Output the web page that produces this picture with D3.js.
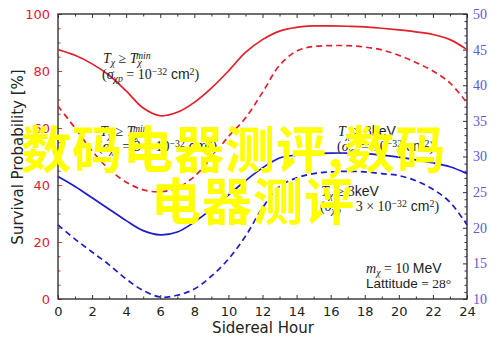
<!DOCTYPE html>
<html><head><meta charset="utf-8">
<script src="https://cdn.jsdelivr.net/npm/d3@7"></script>
<style>body{margin:0;background:#fff}svg{display:block}</style>
</head><body><svg id="c" width="500" height="341"></svg>
<script>
const hours = d3.range(0, 25);
const redSolid  = [87.5,85.5,82.5,78.5,73,67,64.3,65.5,69,74,80,86.5,91,94,95.3,95.8,95.8,95.7,95.5,95,94.4,93.7,92.8,91,87.5];
const redDashed = [67.7,60,52,45.5,41,38.3,37.6,39,43,49.5,57,63.5,72.5,82,87,88.6,88.9,88.9,88.4,87.4,85.5,83,80,75.8,68.8];
const blueSolid = [43,39.5,35.5,31.5,27.5,24,22.5,23.5,27,31.5,36.5,41.5,46,49.5,50.5,51,51.2,51.2,51,50.5,49.8,48.8,47.8,46.4,44];
const blueDashed= [26,21,16.5,12,7,3,0.7,1.3,3.5,8,14,22,32,39.5,42.5,44,44.6,44.8,44.6,44,43.3,41.5,38.5,34,26];
const xTicks = d3.range(0, 25, 2);
const yLeftTicks = [0,20,40,60,80,100];
const yRightTicks = [10,15,20,25,30,35,40,45,50];
const overlayLines = ["数码电器测评,数码", "电器测评"];

const svg = d3.select("#c");
const L=58, R=467, T=14, B=299;
const x = d3.scaleLinear().domain([0,24]).range([L,R]);
const y = d3.scaleLinear().domain([0,100]).range([B,T]);
const y2 = d3.scaleLinear().domain([10,50]).range([B,T]);
const frame = "#333";

// bottom axis
const gx = svg.append("g").attr("transform",`translate(0,${B})`)
  .call(d3.axisBottom(x).tickValues(xTicks).tickSize(-4).tickPadding(8).tickFormat(d3.format("d")));
gx.select(".domain").remove();
gx.selectAll("line").attr("stroke",frame);
gx.selectAll("text").attr("font-family","DejaVu Sans").attr("font-size",13).attr("fill","#222");
svg.append("g").attr("transform",`translate(0,${B})`)
  .call(d3.axisBottom(x).tickValues(d3.range(1,24,2)).tickSize(-2.5).tickFormat(""))
  .call(g=>{g.select(".domain").remove();g.selectAll("line").attr("stroke",frame);});
// top axis
svg.append("g").attr("transform",`translate(0,${T})`)
  .call(d3.axisTop(x).tickValues(xTicks).tickSize(-4).tickFormat(""))
  .call(g=>{g.select(".domain").remove();g.selectAll("line").attr("stroke",frame);});
svg.append("g").attr("transform",`translate(0,${T})`)
  .call(d3.axisTop(x).tickValues(d3.range(1,24,2)).tickSize(-2.5).tickFormat(""))
  .call(g=>{g.select(".domain").remove();g.selectAll("line").attr("stroke",frame);});

// left axis
const gy = svg.append("g").attr("transform",`translate(${L},0)`)
  .call(d3.axisLeft(y).tickValues(yLeftTicks).tickSize(-4).tickPadding(8));
gy.select(".domain").remove();
gy.selectAll("line").attr("stroke","#c33");
gy.selectAll("text").attr("font-family","DejaVu Sans").attr("font-size",13).attr("fill","#e02030");
svg.append("g").attr("transform",`translate(${L},0)`)
  .call(d3.axisLeft(y).tickValues(d3.range(5,100,5).filter(v=>v%20)).tickSize(-2.5).tickFormat(""))
  .call(g=>{g.select(".domain").remove();g.selectAll("line").attr("stroke","#c33");});

// right axis
const gr = svg.append("g").attr("transform",`translate(${R},0)`)
  .call(d3.axisRight(y2).tickValues(yRightTicks).tickSize(-4).tickPadding(6));
gr.select(".domain").remove();
gr.selectAll("line").attr("stroke","#2a2a66");
gr.selectAll("text").attr("font-family","Liberation Serif").attr("font-size",14).attr("fill","#5a5ad8");
svg.append("g").attr("transform",`translate(${R},0)`)
  .call(d3.axisRight(y2).tickValues(d3.range(11,50).filter(v=>v%5)).tickSize(-2.5).tickFormat(""))
  .call(g=>{g.select(".domain").remove();g.selectAll("line").attr("stroke","#2a2a66");});

// frame
svg.append("rect").attr("x",L).attr("y",T).attr("width",R-L).attr("height",B-T)
  .attr("fill","none").attr("stroke",frame).attr("stroke-width",1.4);

// curves
const line = vals => d3.line().x((d,i)=>x(hours[i])).y(d=>y(d)).curve(d3.curveCatmullRom)(vals);
const series = [
  {v:redSolid, c:"#e0202a", dash:null},
  {v:redDashed, c:"#e0202a", dash:"6,4"},
  {v:blueSolid, c:"#1c1cc8", dash:null},
  {v:blueDashed, c:"#1c1cc8", dash:"6,4"}
];
svg.append("g").selectAll("path").data(series).join("path")
  .attr("d",d=>line(d.v)).attr("fill","none").attr("stroke",d=>d.c).attr("stroke-width",1.7)
  .attr("stroke-dasharray",d=>d.dash);

// annotations
function ann(px, py, parts, size=14){
  const t = svg.append("text").attr("x",px).attr("y",py).attr("font-size",size).attr("fill","#222");
  parts.forEach(p=>{
    const s = t.append("tspan").text(p.t)
      .attr("font-family", p.sans ? "Liberation Sans" : "Liberation Serif")
      .attr("font-style", p.i ? "italic" : "normal");
    if(p.sub){s.attr("baseline-shift","-25%").attr("font-size",size*0.7);}
    if(p.sup){s.attr("baseline-shift","45%").attr("font-size",size*0.7);}
    if(p.dx) s.attr("dx",p.dx);
  });
}
const Tmin = [{t:"T",i:1},{t:"χ",i:1,sub:1},{t:" ≥ "},{t:"T",i:1},{t:"χ",i:1,sub:1},{t:"min",i:1,sup:1,dx:-6}];
ann(103,63,Tmin);
ann(102,79,[{t:"("},{t:"σ",i:1},{t:"χp",i:1,sub:1},{t:" = 10"},{t:"−32",sup:1},{t:" cm",sans:1},{t:"2",sup:1},{t:")"}]);
ann(100,136,Tmin);
ann(98,151,[{t:"("},{t:"σ",i:1},{t:"χp",i:1,sub:1},{t:" = 3 × 10"},{t:"−32",sup:1},{t:" cm",sans:1},{t:"2",sup:1},{t:")"}]);
ann(338,136,[{t:"T",i:1},{t:"χ",i:1,sub:1},{t:" ≥ 3"},{t:"keV",sans:1}]);
ann(337,151,[{t:"("},{t:"σ",i:1},{t:"χp",i:1,sub:1},{t:" = 10"},{t:"−32",sup:1},{t:" cm",sans:1},{t:"2",sup:1},{t:")"}]);
ann(321,196,[{t:"T",i:1},{t:"χ",i:1,sub:1},{t:" ≥ 3"},{t:"keV",sans:1}]);
ann(320,211,[{t:"("},{t:"σ",i:1},{t:"χp",i:1,sub:1},{t:" = 3 × 10"},{t:"−32",sup:1},{t:" cm",sans:1},{t:"2",sup:1},{t:")"}]);
ann(366,273,[{t:"m",i:1},{t:"χ",i:1,sub:1},{t:" = 10 "},{t:"MeV",sans:1}]);
ann(366,288,[{t:"Lattitude",sans:1},{t:" = 28°"}], 13.5);

// axis titles
svg.append("text").attr("x",263).attr("y",333).attr("text-anchor","middle")
  .attr("font-family","DejaVu Sans").attr("font-size",15).attr("fill","#222").text("Sidereal Hour");
svg.append("text").attr("transform","translate(23,157) rotate(-90)").attr("text-anchor","middle")
  .attr("font-family","DejaVu Sans").attr("font-size",15).attr("fill","#222").text("Survival Probability [%]");

// overlay
svg.append("text").attr("x",21).attr("y",168).attr("font-family","Noto Sans CJK SC").attr("font-weight","bold")
  .attr("font-size",50).attr("letter-spacing",1).attr("fill","#ffff00").text(overlayLines[0]);
svg.append("text").attr("x",151).attr("y",220).attr("font-family","Noto Sans CJK SC").attr("font-weight","bold")
  .attr("font-size",50).attr("letter-spacing",1).attr("fill","#ffff00").text(overlayLines[1]);
</script></body></html>
